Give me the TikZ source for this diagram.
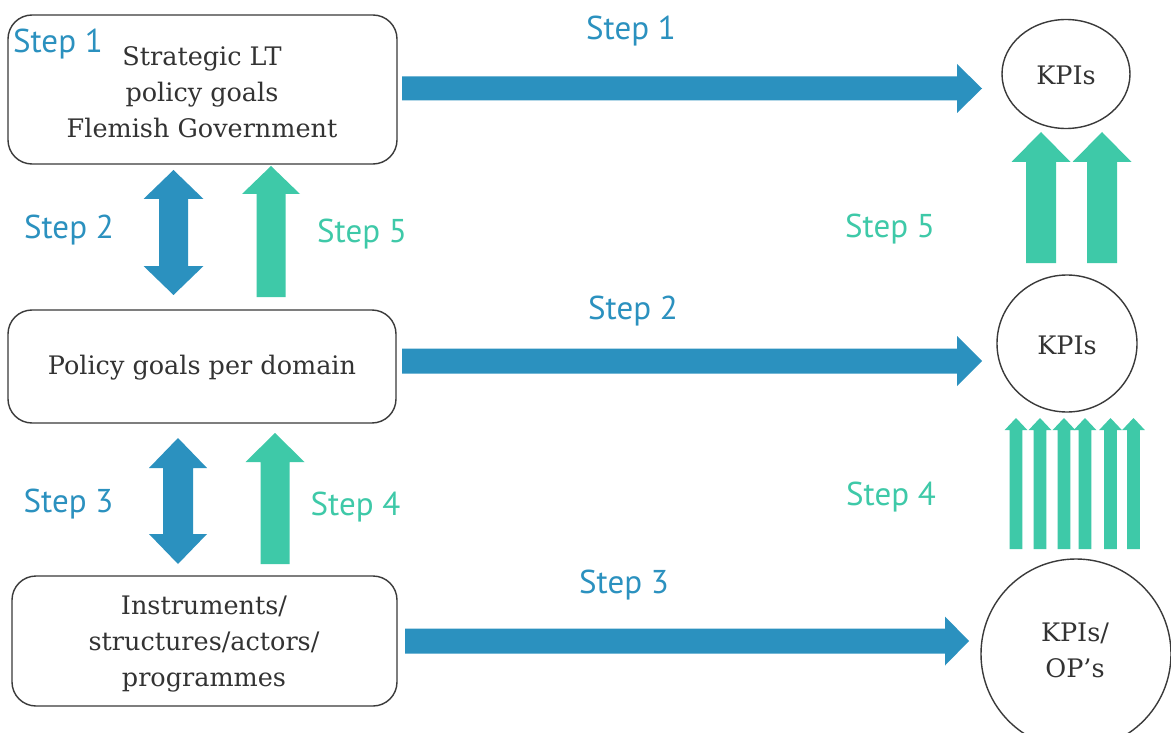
\documentclass[tikz,border=0pt]{standalone}
\usepackage{fontspec}
\setmainfont{DejaVu Serif}
\newfontfamily\stepfont{PT Sans}
\usetikzlibrary{shapes.geometric}
\definecolor{ablue}{HTML}{2B91BF}
\definecolor{agreen}{HTML}{3EC9A8}
\definecolor{lineg}{HTML}{3A3A3A}
\definecolor{txt}{HTML}{333333}
% horizontal right arrow: color, x0, xbase, xtip, yc, shaft half, head half
\newcommand\blockR[7]{\fill[#1] (#2,{#5-#6}) -- (#3,{#5-#6}) -- (#3,{#5-#7}) -- (#4,#5) -- (#3,{#5+#7}) -- (#3,{#5+#6}) -- (#2,{#5+#6}) -- cycle;}
% up arrow: color, cx, ytip, ybase, ybot, shaft half, head half
\newcommand\blockU[7]{\fill[#1] ({#2-#6},#5) -- ({#2-#6},#4) -- ({#2-#7},#4) -- (#2,#3) -- ({#2+#7},#4) -- ({#2+#6},#4) -- ({#2+#6},#5) -- cycle;}
% double vertical: color, cx, ytop, ybase1, ybase2, ybot, shaft half, head half
\newcommand\blockUD[8]{\fill[#1] ({#2-#7},#4) -- ({#2-#8},#4) -- (#2,#3) -- ({#2+#8},#4) -- ({#2+#7},#4) -- ({#2+#7},#5) -- ({#2+#8},#5) -- (#2,#6) -- ({#2-#8},#5) -- ({#2-#7},#5) -- cycle;}
\begin{document}
\begin{tikzpicture}[x=1pt,y=-1pt,
  box/.style={draw=lineg, line width=1.4pt, rounded corners=24pt, inner sep=0pt},
  kpi/.style={draw=lineg, line width=1.4pt, ellipse, inner sep=0pt},
  maintext/.style={text=txt, font=\fontsize{25.5}{36}\selectfont, align=center, inner sep=0pt},
  bstep/.style={text=ablue, font=\stepfont\fontsize{33}{33}\selectfont, inner sep=0pt, anchor=base},
  gstep/.style={text=agreen, font=\stepfont\fontsize{33}{33}\selectfont, inner sep=0pt, anchor=base}]
\useasboundingbox (0,0) rectangle (1171,733);
\fill[white] (0,0) rectangle (1171,733);

% boxes
\node[box, minimum width=389pt, minimum height=149pt] (b1) at (202.5,89.5) {};
\node[box, minimum width=388pt, minimum height=113pt] (b2) at (202,366.5) {};
\node[box, minimum width=385pt, minimum height=130pt] (b3) at (204.5,641) {};
\node[maintext] (t1) at (202,92) {Strategic LT\\policy goals\\Flemish Government};
\node[maintext] (t2) at (202,368) {Policy goals per domain};
\node[maintext] (t3) at (204,644) {Instruments/\\structures/actors/\\programmes};

% KPI circles
\node[kpi, minimum width=128pt, minimum height=109pt] (k1) at (1066,74) {};
\node[kpi, minimum width=140pt, minimum height=137pt] (k2) at (1067,343.5) {};
\node[kpi, minimum width=190pt, minimum height=190pt] (k3) at (1076,654) {};
\node[maintext] (kt1) at (1066,75) {KPIs};
\node[maintext] (kt2) at (1067,345) {KPIs};
\node[maintext] (kt3) at (1075,650) {KPIs/\\OP's};

% horizontal arrows
\blockR{ablue}{402}{957}{982}{88.5}{12}{24.5}
\blockR{ablue}{402}{957}{982}{361}{12.5}{25}
\blockR{ablue}{405}{945}{969}{641}{12.5}{24.5}

% left vertical arrows
\blockUD{ablue}{173.5}{170}{199}{266}{295}{14.5}{30}
\blockU{agreen}{271}{166}{194}{297}{14.5}{29}
\blockUD{ablue}{178}{438}{468}{534}{564}{15}{29}
\blockU{agreen}{275}{433}{462}{564}{14.5}{29.5}

% right vertical arrows
\blockU{agreen}{1041}{132}{162}{263}{15}{29.5}
\blockU{agreen}{1102}{132}{162}{263}{15}{29.5}
\foreach \cx in {1016,1040,1064,1085,1110.5,1133.5}{
  \blockU{agreen}{\cx}{418}{430}{549}{6.3}{11.3}
}

% step labels
\node[bstep] (s1a) at (58,53) {Step 1};
\node[bstep] (s1b) at (631,40) {Step 1};
\node[bstep] (s2a) at (69,239) {Step 2};
\node[bstep] (s2b) at (633,319) {Step 2};
\node[gstep] (s5a) at (362,243) {Step 5};
\node[gstep] (s5b) at (890,237) {Step 5};
\node[bstep] (s3a) at (68.5,512) {Step 3};
\node[bstep] (s3b) at (624,593) {Step 3};
\node[gstep] (s4a) at (355.5,515) {Step 4};
\node[gstep] (s4b) at (891,505) {Step 4};
\end{tikzpicture}
\end{document}
